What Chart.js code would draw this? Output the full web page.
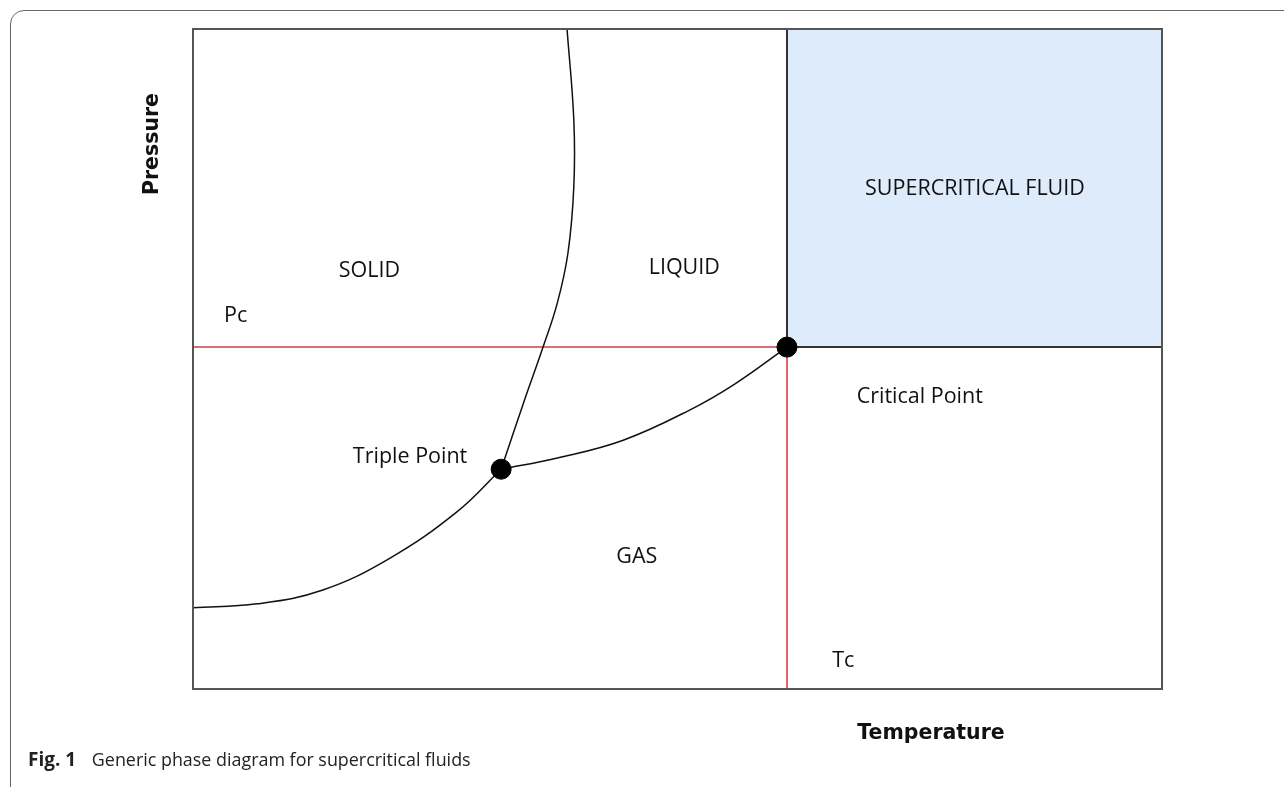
<!DOCTYPE html>
<html>
<head>
<meta charset="utf-8">
<script src="https://cdn.jsdelivr.net/npm/chart.js@4"></script>
<style>
    html, body { margin: 0; padding: 0; background: #fff; overflow: hidden; }
    #frame {
        position: absolute; left: 10px; top: 10px; width: 1300px; height: 790px;
        border: 1.5px solid #666; border-radius: 14px;
    }
    #wrap { position: absolute; left: 0; top: 0; width: 1284px; height: 787px; }
    #caption {
        position: absolute; left: 28px; top: 746px;
        font-family: "Open Sans", sans-serif; font-size: 17.9px; color: #222;
    }
    #caption b { font-size: 19px; margin-right: 11px; }
</style>
</head>
<body>
<div id="frame"></div>
<div id="wrap"><canvas id="phaseChart" width="1284" height="787"></canvas></div>
<div id="caption"><b>Fig. 1</b> Generic phase diagram for supercritical fluids</div>
<script>
// critical point (Tc, Pc) and triple point, axes run 0..100
const tc = 61.3;
const pc = 51.8;
const tripleX = 31.8;
const tripleY = 33.3;

// solid-liquid line (goes up from the triple point)
const meltX = [31.8, 34.1, 36.1, 37.6, 38.7, 39.3, 39.3, 38.6];
const meltY = [33.3, 43.3, 51.7, 58.5, 66.1, 76.1, 86.2, 100];

// solid-gas line
const sublX = [0, 6.6, 13.4, 20.3, 27.2, 31.8];
const sublY = [12.3, 12.9, 15.0, 19.8, 26.8, 33.3];

// liquid-gas line up to the critical point
const vapX = [31.8, 37.6, 44.4, 51.3, 55.9, 61.3];
const vapY = [33.3, 35.0, 37.7, 42.3, 46.2, 51.8];

// region and point labels
const labelText = ['SOLID', 'LIQUID', 'SUPERCRITICAL FLUID', 'Pc', 'Critical Point', 'Triple Point', 'GAS', 'Tc'];
const labelX = [18.2, 50.7, 80.7, 4.4, 75.0, 22.4, 45.8, 67.1];
const labelY = [63.3, 63.8, 75.8, 56.5, 44.2, 35.2, 20.0, 4.2];

function pts(xs, ys) {
    return xs.map((x, i) => ({ x: x, y: ys[i] }));
}

const curve = {
    borderColor: '#111',
    borderWidth: 1.5,
    pointRadius: 0,
    tension: 0.4,
    fill: false
};

// frame around the plot plus free text
const decorations = {
    id: 'decorations',
    afterDatasetsDraw(chart) {
        const c = chart.ctx;
        const a = chart.chartArea;
        const xs = chart.scales.x;
        const ys = chart.scales.y;
        c.save();
        c.strokeStyle = '#555';
        c.lineWidth = 2;
        c.strokeRect(a.left, a.top, a.right - a.left, a.bottom - a.top);

        c.fillStyle = '#111';
        c.textAlign = 'center';
        c.textBaseline = 'middle';
        c.font = '21.5px "Open Sans", sans-serif';
        labelText.forEach((t, i) => {
            c.fillText(t, xs.getPixelForValue(labelX[i]), ys.getPixelForValue(labelY[i]));
        });

        c.font = 'bold 20.5px "DejaVu Sans", sans-serif';
        c.fillText('Temperature', 931, 734);
        c.translate(153, 144);
        c.rotate(-Math.PI / 2);
        c.fillText('Pressure', 0, 0);
        c.restore();
    }
};

// chart.js paints the first dataset on top, so dots come first, fill last
const chart = new Chart(document.getElementById('phaseChart'), {
    type: 'line',
    data: {
        datasets: [
            {
                data: pts([tripleX, tc], [tripleY, pc]),
                showLine: false,
                pointRadius: 10,
                pointBackgroundColor: '#000',
                pointBorderColor: '#000'
            },
            Object.assign({ data: pts(meltX, meltY) }, curve),
            Object.assign({ data: pts(sublX, sublY) }, curve),
            Object.assign({ data: pts(vapX, vapY) }, curve),
            {
                data: pts([tc, 100], [pc, pc]),
                borderColor: '#333',
                borderWidth: 2,
                pointRadius: 0
            },
            {
                data: pts([tc, tc], [pc, 100]),
                borderColor: '#333',
                borderWidth: 2,
                pointRadius: 0
            },
            {
                data: pts([0, tc], [pc, pc]),
                borderColor: '#c8404a',
                borderWidth: 1.5,
                pointRadius: 0
            },
            {
                data: pts([tc, tc], [pc, 0]),
                borderColor: '#e0303c',
                borderWidth: 1.5,
                pointRadius: 0
            },
            {
                // supercritical region
                data: pts([tc, 100], [100, 100]),
                borderWidth: 0,
                pointRadius: 0,
                backgroundColor: '#deebfa',
                fill: { value: pc }
            }
        ]
    },
    options: {
        responsive: false,
        animation: false,
        layout: { padding: { left: 193, top: 29, right: 122, bottom: 98 } },
        plugins: { legend: { display: false }, tooltip: { enabled: false } },
        scales: {
            x: { type: 'linear', min: 0, max: 100, display: false },
            y: { type: 'linear', min: 0, max: 100, display: false }
        }
    },
    plugins: [decorations]
});
</script>
</body>
</html>
